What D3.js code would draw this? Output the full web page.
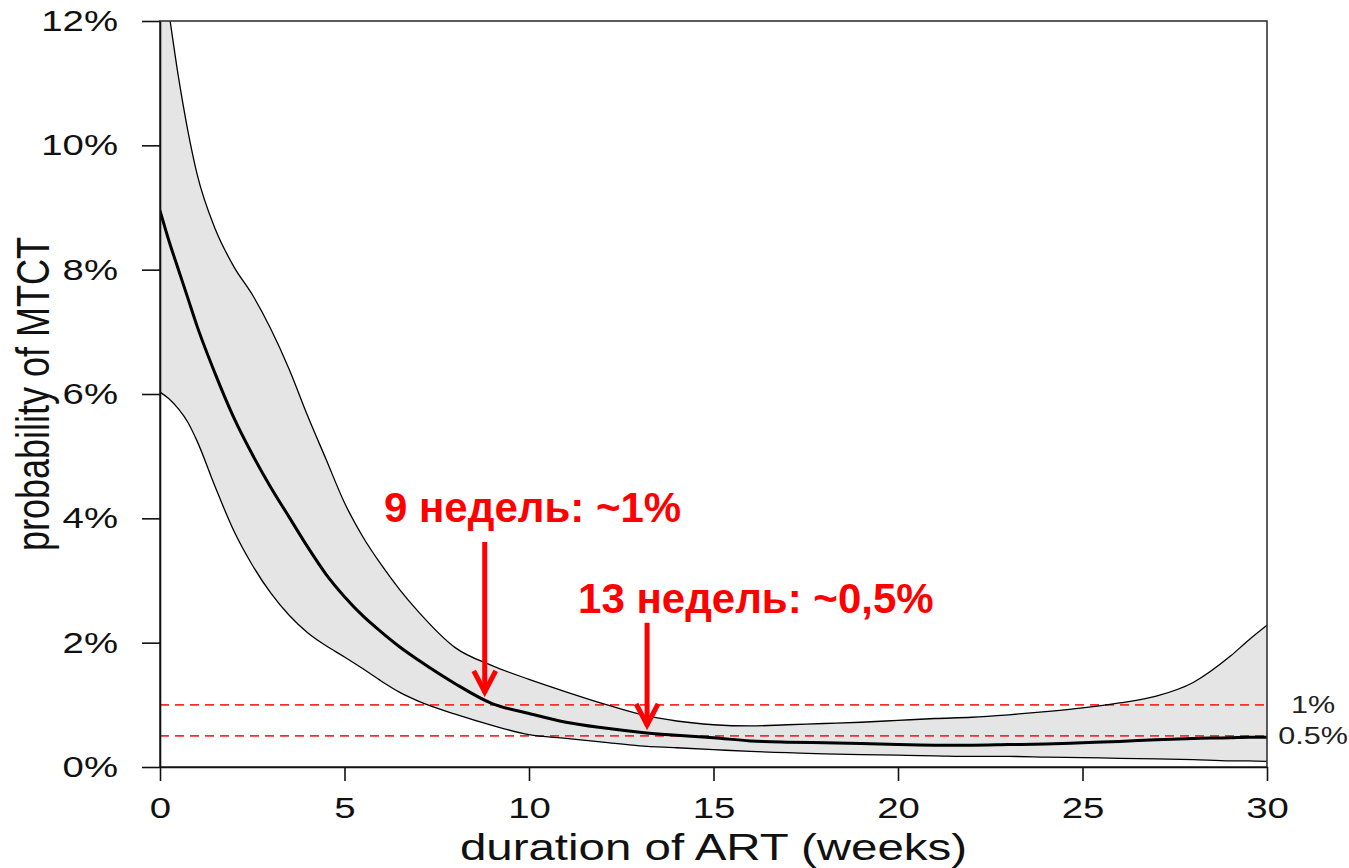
<!DOCTYPE html>
<html>
<head>
<meta charset="utf-8">
<script src="https://d3js.org/d3.v7.min.js"></script>
<style>
  body { margin: 0; background: #fff; }
  text { font-family: "Liberation Sans", Arial, sans-serif; }
</style>
</head>
<body>
<div id="chart"></div>
<script>
// Data (percent)
var weeks   = [0, 0.25, 0.5, 0.75, 1, 1.5, 2, 2.5, 3, 3.5, 4, 4.5, 5, 5.5, 6, 6.5, 7, 8, 9, 10, 11, 12, 13, 14, 15, 16, 17, 18, 19, 20, 21, 22, 23, 24, 25, 26, 27, 28, 29, 29.5, 30];
var central = [8.95, 8.45, 8.0, 7.55, 7.1, 6.32, 5.62, 5.03, 4.5, 4.02, 3.54, 3.1, 2.74, 2.43, 2.17, 1.93, 1.72, 1.34, 1.02, 0.86, 0.72, 0.63, 0.56, 0.51, 0.47, 0.42, 0.40, 0.39, 0.38, 0.36, 0.35, 0.35, 0.36, 0.37, 0.39, 0.41, 0.44, 0.46, 0.47, 0.48, 0.48];
var upper   = [13.1, 12.1, 11.1, 10.25, 9.55, 8.65, 8.05, 7.6, 7.05, 6.4, 5.65, 4.95, 4.25, 3.7, 3.25, 2.85, 2.5, 1.92, 1.63, 1.41, 1.21, 1.02, 0.85, 0.74, 0.68, 0.66, 0.68, 0.70, 0.72, 0.75, 0.78, 0.80, 0.84, 0.89, 0.95, 1.03, 1.14, 1.36, 1.78, 2.04, 2.28];
var lower   = [6.03, 5.92, 5.76, 5.55, 5.25, 4.5, 3.8, 3.25, 2.8, 2.44, 2.16, 1.95, 1.77, 1.58, 1.38, 1.2, 1.06, 0.85, 0.67, 0.52, 0.46, 0.40, 0.34, 0.31, 0.28, 0.25, 0.23, 0.21, 0.20, 0.19, 0.18, 0.17, 0.17, 0.16, 0.15, 0.14, 0.13, 0.12, 0.10, 0.10, 0.09];

var xTicks = [0, 5, 10, 15, 20, 25, 30];
var yTicks = [0, 2, 4, 6, 8, 10, 12];

var refValues = [1, 0.5];
var refLabels = ["1%", "0.5%"];

// annotations: arrow at week, from pct top to pct tip; text start week / baseline pct
var noteLabels = ["9 недель: ~1%", "13 недель: ~0,5%"];
var noteArrowX = [8.8, 13.2];
var noteArrowTop = [3.62, 2.32];
var noteArrowTip = [1.16, 0.63];
var noteTextX = [6.07, 11.33];
var noteTextY = [3.94, 2.48];

function init() {
  var w = 1349;
  var h = 868;
  var margin = { top: 21, right: 82, bottom: 101, left: 160 };
  var stretch = 1.3; // original picture was widened

  var dataset = weeks.map(function (d, i) {
    return { week: d, mid: central[i], hi: upper[i], lo: lower[i] };
  });

  //Set up Scales
  var xScale = d3.scaleLinear()
    .domain([0, 30])
    .range([margin.left, w - margin.right]);
  var yScale = d3.scaleLinear()
    .domain([0, 12])
    .range([h - margin.bottom, margin.top]);

  //Create SVG element
  var svg = d3.select("#chart")
    .append("svg")
    .attr("width", w)
    .attr("height", h);

  svg.append("clipPath")
    .attr("id", "plotclip")
    .append("rect")
    .attr("x", xScale(0))
    .attr("y", yScale(12))
    .attr("width", xScale(30) - xScale(0))
    .attr("height", yScale(0) - yScale(12));

  var plot = svg.append("g").attr("clip-path", "url(#plotclip)");

  //Confidence band
  var area = d3.area()
    .x(function (d) { return xScale(d.week); })
    .y0(function (d) { return yScale(d.lo); })
    .y1(function (d) { return yScale(d.hi); })
    .curve(d3.curveMonotoneX);

  plot.append("path")
    .datum(dataset)
    .attr("d", area)
    .attr("fill", "#e5e5e5");

  //Reference lines
  plot.selectAll("line.ref")
    .data(refValues)
    .enter()
    .append("line")
    .attr("class", "ref")
    .attr("x1", xScale(0))
    .attr("x2", xScale(30))
    .attr("y1", function (d) { return yScale(d); })
    .attr("y2", function (d) { return yScale(d); })
    .attr("stroke", "#ff2a2a")
    .attr("stroke-width", 1.6)
    .attr("stroke-dasharray", "9,6");

  //CI lines
  ["hi", "lo"].forEach(function (k) {
    var line = d3.line()
      .x(function (d) { return xScale(d.week); })
      .y(function (d) { return yScale(d[k]); })
      .curve(d3.curveMonotoneX);
    plot.append("path")
      .datum(dataset)
      .attr("d", line)
      .attr("fill", "none")
      .attr("stroke", "#000")
      .attr("stroke-width", 1.3);
  });

  //Central estimate
  var midLine = d3.line()
    .x(function (d) { return xScale(d.week); })
    .y(function (d) { return yScale(d.mid); })
    .curve(d3.curveMonotoneX);
  plot.append("path")
    .datum(dataset)
    .attr("d", midLine)
    .attr("fill", "none")
    .attr("stroke", "#000")
    .attr("stroke-width", 3);

  //Box
  svg.append("rect")
    .attr("x", xScale(0))
    .attr("y", yScale(12))
    .attr("width", xScale(30) - xScale(0))
    .attr("height", yScale(0) - yScale(12))
    .attr("fill", "none")
    .attr("stroke", "#333")
    .attr("stroke-width", 1.6);

  //Axes
  var yAxis = svg.append("g")
    .attr("transform", "translate(" + xScale(0) + ",0)")
    .call(d3.axisLeft(yScale).tickValues(yTicks).tickSize(18).tickSizeOuter(0).tickPadding(24)
      .tickFormat(function (d) { return d + "%"; }));

  var xAxis = svg.append("g")
    .attr("transform", "translate(0," + yScale(0) + ")")
    .call(d3.axisBottom(xScale).tickValues(xTicks).tickSize(14).tickSizeOuter(0).tickPadding(16));

  [yAxis, xAxis].forEach(function (ax) {
    ax.select(".domain").attr("stroke", "#111").attr("stroke-width", 1.6);
    ax.selectAll(".tick line").attr("stroke", "#111").attr("stroke-width", 1.6);
    ax.selectAll(".tick text")
      .attr("font-family", "Liberation Sans, Arial, sans-serif")
      .attr("font-size", 29.5)
      .attr("fill", "#111")
      .attr("transform", function () {
        var x = +this.getAttribute("x") || 0;
        return "translate(" + x + ",0) scale(" + stretch + ",1)";
      })
      .attr("x", 0);
  });

  //Axis titles
  svg.append("text")
    .attr("transform", "translate(" + (xScale(0) + xScale(30)) / 2 + ",860) scale(" + stretch + ",1)")
    .attr("text-anchor", "middle")
    .attr("font-size", 36.5)
    .attr("fill", "#111")
    .text("duration of ART (weeks)");

  svg.append("text")
    .attr("transform", "translate(49," + (yScale(0) + yScale(12)) / 2 + ") scale(" + stretch + ",1) rotate(-90)")
    .attr("text-anchor", "middle")
    .attr("font-size", 36)
    .attr("fill", "#111")
    .text("probability of MTCT");

  //Reference labels
  svg.selectAll("text.reflabel")
    .data(refValues)
    .enter()
    .append("text")
    .attr("class", "reflabel")
    .attr("transform", function (d) {
      return "translate(1313," + (yScale(d) + 8.5) + ") scale(" + stretch + ",1)";
    })
    .attr("text-anchor", "middle")
    .attr("font-size", 23.5)
    .attr("fill", "#222")
    .text(function (d, i) { return refLabels[i]; });

  //Annotations
  noteLabels.forEach(function (label, i) {
    svg.append("text")
      .attr("x", xScale(noteTextX[i]))
      .attr("y", yScale(noteTextY[i]))
      .attr("font-size", 42)
      .attr("font-weight", "bold")
      .attr("fill", "#ff0000")
      .text(label);

    var ax = xScale(noteArrowX[i]);
    var tip = yScale(noteArrowTip[i]);
    svg.append("line")
      .attr("x1", ax).attr("x2", ax)
      .attr("y1", yScale(noteArrowTop[i]))
      .attr("y2", tip - 2)
      .attr("stroke", "#ff0000")
      .attr("stroke-width", 5);
    svg.append("path")
      .attr("d", d3.line()([[ax - 11, tip - 24], [ax, tip - 3], [ax + 11, tip - 24]]))
      .attr("fill", "none")
      .attr("stroke", "#ff0000")
      .attr("stroke-width", 5);
  });
}

window.onload = function () {
  init();
}
</script>
</body>
</html>
